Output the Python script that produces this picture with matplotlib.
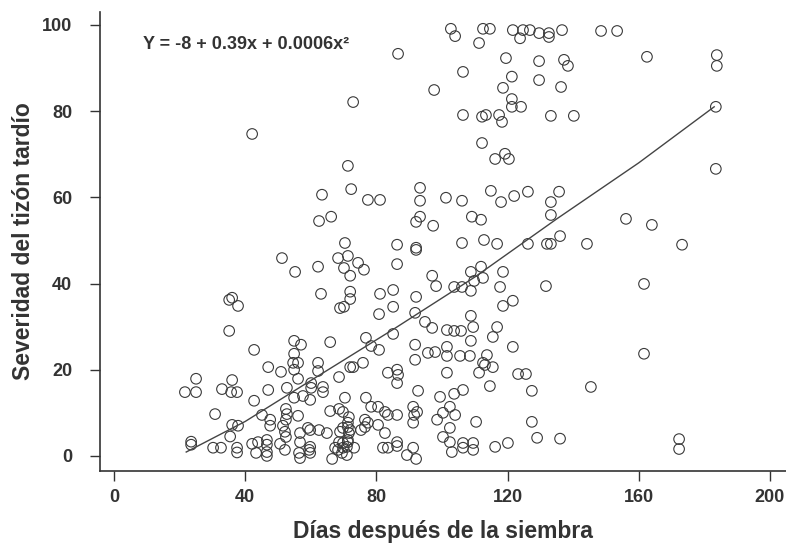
import matplotlib
matplotlib.use("Agg")
import matplotlib.pyplot as plt

plt.rcParams['font.family'] = ['Liberation Sans', 'DejaVu Sans']

# Data (days after sowing, late blight severity)
days = [
    102.7, 104, 112.5, 114.6, 121.6, 123.8, 124.7, 126.8, 129.6, 132.6, 132.6, 136.6, 148.5, 153.4,
    111.3, 86.6, 119.5, 129.6, 137.2, 138.4, 162.5, 183.8, 183.8, 106.4, 121.3, 129.6, 97.6, 118.6, 136.3,
    121.3, 121.3, 124.1, 183.5, 72.9, 106.4, 112.2, 113.4, 117.4, 118.3, 133.2, 140.2, 42.1, 112.2,
    116.2, 119.2, 120.4, 183.5, 71.3, 72.3, 63.4, 77.4, 81.1, 93.3, 93.3, 101.2, 106.1, 114.9, 118.0,
    122.0, 126.2, 133.2, 135.7,
    62.5, 66.2, 133.2, 93.3, 92.1, 97.3, 109.1, 111.9, 156.1, 164.0, 136.0,
    70.4, 86.3, 92.1, 92.1, 106.1, 112.8, 116.8, 126.2, 132.0, 133.2, 144.2, 173.2, 51.2, 68.3, 71.3,
    55.2, 62.2, 70.1, 74.4, 76.2, 72.0, 86.3, 97.0, 98.2, 103.7, 106.1, 108.8, 111.9, 112.5, 109.8,
    118.6, 117.7, 131.7, 161.6,
    63.1, 72.0, 72.0, 68.9, 70.1, 35.1, 36.0, 37.8, 81.1, 85.1, 92.1, 85.1, 118.6, 121.6, 108.8,
    80.8, 91.8, 108.8, 35.1, 94.8, 97.0, 101.5, 103.7, 105.8, 109.5, 116.8, 85.1,
    115.5, 76.8, 54.9, 57.0, 65.9, 78.4, 80.8, 42.7, 91.8, 101.5, 121.6, 108.8, 54.9, 91.8, 95.7,
    97.9, 101.5, 105.5, 108.5, 113.7, 161.6, 54.6, 56.1, 62.2, 75.9, 112.5, 113.1, 47.0, 72.0, 72.9,
    115.5, 54.9, 86.3, 62.2, 50.9, 83.5, 111.3, 101.5, 123.2, 125.6, 86.6, 68.6, 25.0, 56.1, 36.0,
    60.1, 86.3, 114.6, 63.7, 145.4, 52.7, 60.1, 32.9, 47.0, 106.4, 21.6, 25.0, 35.7, 37.5, 63.7,
    127.4, 92.7, 103.7, 57.6, 99.4, 54.9, 70.4, 76.8, 59.8, 42.7,
    78.4, 80.5, 91.2, 102.4, 52.4, 68.6, 65.9, 69.8, 82.6, 92.4, 100.3, 30.8, 52.7, 45.1, 83.5,
    86.3, 91.5, 104.0, 56.1, 71.6, 47.6, 52.4, 76.5, 98.5, 77.4, 71.3, 91.2, 110.4, 127.4, 36.0,
    37.8, 47.6, 51.5, 80.5, 71.3, 76.5, 59.1, 69.8, 102.4, 59.8, 62.5, 72.0, 75.3, 52.1, 68.9,
    56.7, 64.9, 71.6, 82.6,
    35.4, 52.4, 100.3, 129.0, 136.0, 46.6, 71.3, 172.3, 23.5, 43.9, 56.7, 68.6, 71.3, 86.3, 102.4,
    69.8, 106.4, 109.5, 120.1, 23.5, 42.1, 46.6, 50.6, 86.3, 30.2, 32.6, 37.5, 59.8, 71.0, 67.4,
    69.8, 73.2, 82.0, 83.5, 91.2, 106.4, 116.2, 52.1, 59.5, 68.3, 109.5, 172.3, 37.5, 43.3, 46.6,
    56.4, 59.8, 69.5, 103.0, 71.0, 89.3, 46.6, 56.7, 66.5, 92.1,
]
severity = [
    99.1, 97.4, 99.1, 99.1, 98.8, 96.9, 98.8, 98.8, 98.1, 98.1, 97.2, 98.8, 98.6, 98.6,
    95.8, 93.3, 92.3, 91.6, 91.9, 90.5, 92.6, 93.0, 90.5, 89.1, 88.0, 87.2, 84.9, 85.4, 85.6,
    82.8, 81.0, 81.0, 81.0, 82.1, 79.1, 78.7, 79.1, 79.1, 77.5, 78.9, 78.9, 74.7, 72.6,
    68.9, 70.1, 68.9, 66.6, 67.3, 61.9, 60.6, 59.4, 59.4, 62.2, 59.2, 59.9, 59.2, 61.5, 58.9,
    60.3, 61.3, 58.9, 61.3,
    54.5, 55.5, 55.9, 55.5, 54.3, 53.4, 55.5, 54.8, 55.0, 53.6, 51.0,
    49.4, 49.0, 47.8, 48.3, 49.4, 50.1, 49.2, 49.2, 49.2, 49.2, 49.2, 49.0, 45.9, 45.9, 46.4,
    42.7, 43.9, 43.6, 44.8, 43.2, 41.8, 44.5, 41.8, 39.4, 39.2, 39.2, 42.7, 43.9, 41.3, 40.6,
    42.7, 39.2, 39.4, 39.9,
    37.6, 38.1, 36.4, 34.3, 34.6, 36.2, 36.7, 34.8, 37.6, 38.5, 36.9, 34.6, 34.8, 36.0, 38.3,
    32.9, 33.2, 32.5, 29.0, 31.1, 29.7, 29.2, 29.0, 29.0, 29.9, 29.9, 28.3,
    27.6, 27.4, 26.7, 25.8, 26.4, 25.5, 24.6, 24.6, 25.8, 25.3, 25.3, 26.7, 23.7, 22.3, 23.9,
    24.1, 23.2, 23.2, 23.2, 23.4, 23.7, 21.6, 21.6, 21.6, 21.6, 21.6, 21.1, 20.6, 20.6, 20.6,
    20.6, 20.0, 20.0, 19.7, 19.5, 19.3, 19.3, 19.3, 19.0, 19.0, 18.8, 18.3, 17.9, 17.9, 17.6,
    16.9, 16.9, 16.2, 16.0, 16.0, 15.8, 15.8, 15.5, 15.3, 15.3, 14.8, 14.8, 14.8, 14.8, 14.8,
    15.1, 15.1, 14.4, 13.9, 13.7, 13.5, 13.5, 13.5, 13.0, 12.8,
    11.4, 11.4, 11.4, 11.4, 10.9, 10.9, 10.4, 10.2, 10.2, 10.2, 10.0, 9.7, 9.7, 9.5, 9.5,
    9.5, 9.5, 9.5, 9.3, 9.0, 8.4, 8.4, 8.4, 8.4, 7.7, 7.7, 7.7, 7.9, 7.9, 7.2,
    7.0, 7.0, 7.0, 7.2, 6.7, 6.7, 6.5, 6.5, 6.5, 6.0, 6.0, 6.0, 6.0, 5.6, 5.6,
    5.3, 5.3, 5.3, 5.3,
    4.5, 4.4, 4.4, 4.2, 4.0, 3.7, 3.7, 3.9, 3.3, 3.2, 3.2, 3.2, 3.2, 3.2, 3.2,
    3.0, 3.0, 3.0, 3.0, 2.6, 2.8, 2.6, 2.8, 2.3, 1.9, 1.9, 1.9, 2.1, 2.1, 1.9,
    1.9, 1.9, 1.9, 1.9, 1.9, 1.9, 2.1, 1.4, 1.4, 1.4, 1.4, 1.6, 0.8, 0.7, 0.9,
    0.7, 0.7, 0.7, 0.9, 0.2, 0.2, 0.0, -0.5, -0.7, -0.7,
]

# Fitted curve as drawn in the picture
fit_days = [22, 40, 60, 85, 110, 135, 160, 183]
fit_severity = [0.9, 8.0, 17.5, 29.3, 41.5, 55.0, 68.0, 81]

x_ticks = [0, 40, 80, 120, 160, 200]
y_ticks = [0, 20, 40, 60, 80, 100]
equation = 'Y = -8 + 0.39x + 0.0006x²'

ink = '#333333'

fig = plt.figure(figsize=(7.86, 5.45), dpi=100)
ax = fig.add_axes([0.1272, 0.1358, 0.8728, 0.8422])

ax.scatter(days, severity, s=58, facecolors='none', edgecolors='#3a3a3a', linewidths=0.8)
ax.plot(fit_days, fit_severity, color='#444444', linewidth=1.0)

ax.text(8.8, 95.4, equation, ha='left', va='center', fontsize=13, fontweight='bold', color=ink)

ax.set_xlim(-4.3, 204.9)
ax.set_ylim(-3.5, 103)
ax.set_xticks(x_ticks)
ax.set_yticks(y_ticks)

for side in ['top', 'right']:
    ax.spines[side].set_visible(False)
for side in ['left', 'bottom']:
    ax.spines[side].set_color(ink)
    ax.spines[side].set_linewidth(1.2)

ax.tick_params(axis='both', direction='out', length=7, width=1, color=ink,
               labelsize=13, labelcolor=ink)
ax.tick_params(axis='y', pad=13)
ax.tick_params(axis='x', pad=6)
for lbl in ax.get_xticklabels() + ax.get_yticklabels():
    lbl.set_fontweight('bold')

ax.set_xlabel('Días después de la siembra', fontsize=16.5, fontweight='bold', color=ink, labelpad=10)
ax.set_ylabel('Severidad del tizón tardío', fontsize=16.5, fontweight='bold', color=ink, labelpad=5)

plt.savefig('out.png', dpi=100)
